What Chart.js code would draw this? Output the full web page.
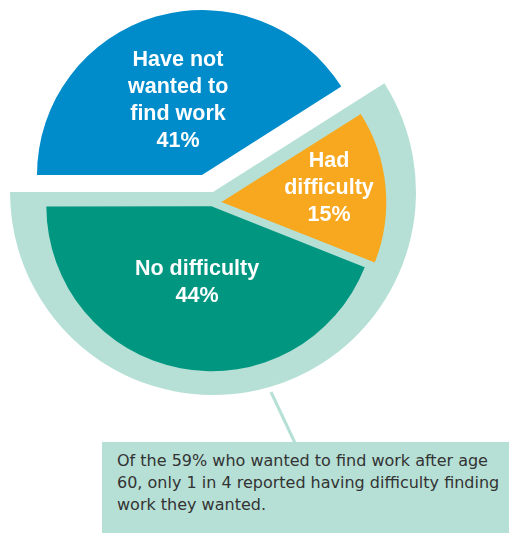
<!DOCTYPE html>
<html>
<head>
<meta charset="utf-8">
<script src="https://cdn.jsdelivr.net/npm/chart.js@4.4.1/dist/chart.umd.min.js"></script>
<style>
  body { margin: 0; width: 509px; height: 533px; overflow: hidden; background: #fff; position: relative; }
  canvas { position: absolute; }
  .lbl { position: absolute; color: #fff; font: bold 21.5px "Liberation Sans", Arial, sans-serif; line-height: 27px; text-align: center; white-space: nowrap; }
  #note { position: absolute; left: 102px; top: 442px; width: 407px; height: 91px; background: #b6e0d6; }
  #note p { margin: 0; position: absolute; left: 15px; top: 8px; font: 16px "DejaVu Sans", sans-serif; line-height: 22px; color: #333; white-space: nowrap; }
  #leader { position: absolute; left: 0; top: 0; }
</style>
</head>
<body>
<svg id="leader" width="509" height="533"><line x1="271" y1="392" x2="295" y2="443" stroke="#b6e0d6" stroke-width="3"/></svg>
<canvas id="ring" width="420" height="420" style="left:3px;top:-18px"></canvas>
<canvas id="main" width="420" height="420" style="left:2px;top:-7px"></canvas>
<canvas id="top" width="420" height="420" style="left:-8px;top:-35px"></canvas>
<div class="lbl" id="l0" style="left:128px;top:46px;width:100px"></div>
<div class="lbl" id="l1" style="left:279px;top:147px;width:100px"></div>
<div class="lbl" id="l2" style="left:127px;top:255px;width:140px"></div>
<div id="note"><p>Of the 59% who wanted to find work after age<br>60, only 1 in 4 reported having difficulty finding<br>work they wanted.</p></div>
<script>
// shares of people over 60 (%)
const labels = [["Have not", "wanted to", "find work"], ["Had", "difficulty"], ["No difficulty"]];
const shares = [41, 15, 44];
const colors = ["#008ccb", "#f7a81f", "#009680"];
const wanted = shares[1] + shares[2];

const clear = "rgba(0,0,0,0)";

function pie(id, data, bg, radius, offset) {
  return new Chart(document.getElementById(id), {
    type: 'pie',
    data: {
      labels: data.map((_, i) => i),
      datasets: [{
        data: data,
        backgroundColor: bg,
        borderWidth: 0,
        offset: offset || 0,
        clip: false
      }]
    },
    options: {
      responsive: false,
      animation: false,
      events: [],
      rotation: -90,
      radius: radius,
      layout: { padding: 0 },
      plugins: { legend: { display: false }, tooltip: { enabled: false } }
    }
  });
}

// pale backdrop behind the 59% who wanted work
pie("ring", [shares[0], wanted], [clear, "#b6e0d6"], 203);
// had difficulty / no difficulty, pulled apart slightly
pie("main", shares, [clear, colors[1], colors[2]], 163, [0, 38, 13]);
// have not wanted to find work
pie("top", shares, [colors[0], clear, clear], 165);

labels.forEach((lines, i) => {
  document.getElementById("l" + i).innerHTML = lines.concat(shares[i] + "%").join("<br>");
});
</script>
</body>
</html>
